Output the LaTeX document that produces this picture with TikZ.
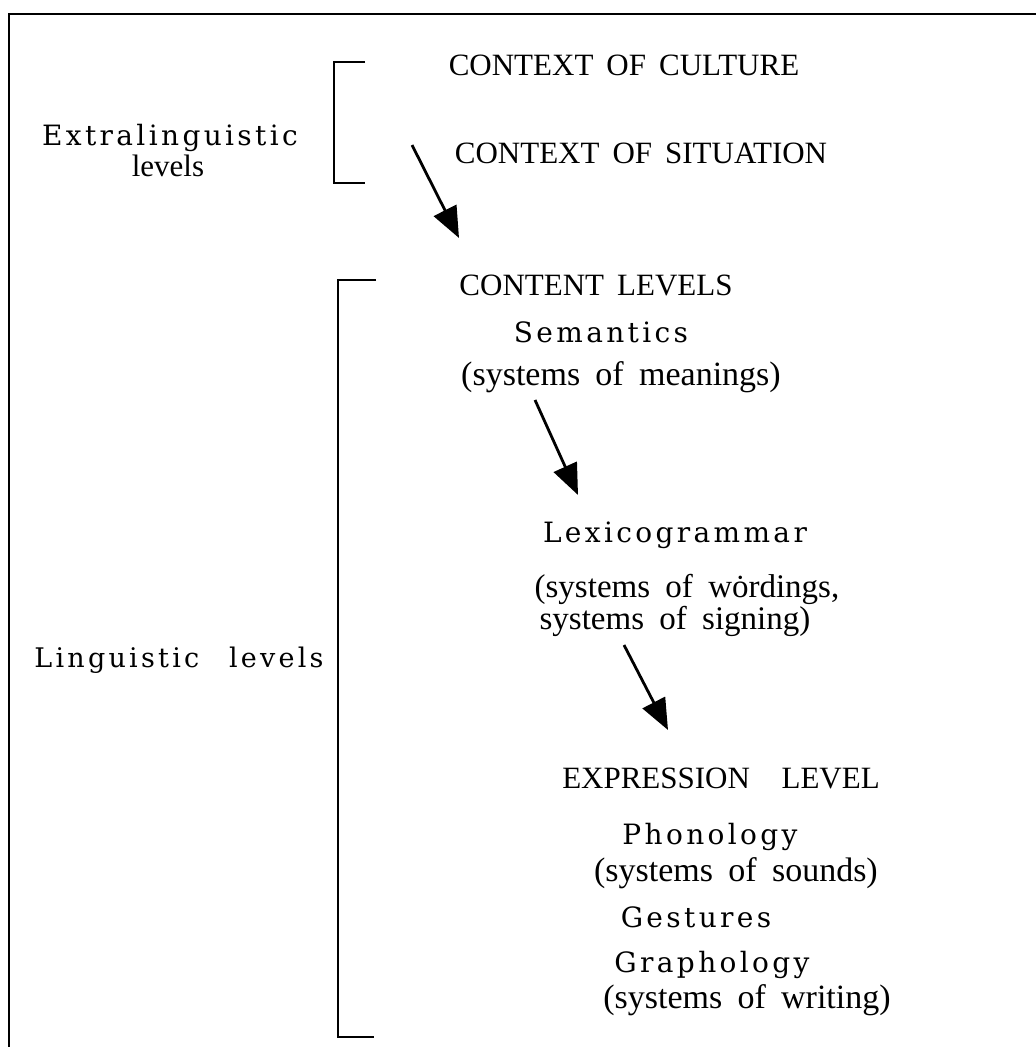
\documentclass[tikz,border=0pt]{standalone}
\usepackage{fontspec}
\setmainfont{Liberation Serif}
\newfontfamily\spacedfont[LetterSpace=12]{DejaVu Serif}
\usetikzlibrary{arrows.meta}

% type settings for the three kinds of label
\newcommand\capsfont{\fontsize{31}{31}\selectfont\spaceskip=0.42em\relax}
\newcommand\glossfont{\fontsize{34}{34}\selectfont\spaceskip=0.45em\relax}
\newcommand\termfont{\spacedfont\fontsize{28}{28}\selectfont}

\begin{document}
\begin{tikzpicture}[x=1pt,y=-1pt,
  rule/.style={line width=2.6pt},
  flow/.style={line width=2.8pt,-{Triangle[length=31pt,width=25pt]}},
  caps/.style={anchor=base,inner sep=0pt,font=\capsfont},
  gloss/.style={anchor=base,inner sep=0pt,font=\glossfont},
  term/.style={anchor=base,inner sep=0pt,font=\termfont},
]
\useasboundingbox (0,0) rectangle (1036,1047);

% open frame: top and left edges
\draw[rule] (1036,14) -- (9,14) -- (9,1047);

% brackets
\draw[rule] (365,62) -- (334,62) -- (334,183) -- (365,183);
\draw[rule] (376,280) -- (338,280) -- (338,1037) -- (374,1037);

% left-hand labels
\node[term] (extra) at (170,145) {Extralinguistic};
\node[anchor=base,inner sep=0pt,font=\fontsize{31}{31}\selectfont] (extralev) at (168,176) {levels};
\node[term,font=\termfont\fontsize{27}{27}\selectfont] (ling) at (179,667) {Linguistic\hspace{1.1em}levels};

% extralinguistic levels
\node[caps] (culture) at (624,75) {CONTEXT OF CULTURE};
\node[caps] (situation) at (641,163) {CONTEXT OF SITUATION};

% content levels
\node[caps] (content) at (596,295) {CONTENT LEVELS};
\node[term] (sem) at (601,342) {Semantics};
\node[gloss] (semg) at (621,385) {(systems of meanings)};
\node[term] (lex) at (675,542) {Lexicogrammar};
\node[gloss,font=\glossfont\fontsize{33}{33}\selectfont] (lexg1) at (687,597) {(systems of w\.ordings,};
\node[gloss,font=\glossfont\fontsize{33}{33}\selectfont] (lexg2) at (675,629) {systems of signing)};

% expression level
\node[caps] (expr) at (721,788) {EXPRESSION\hspace{0.6em} LEVEL};
\node[term] (phon) at (710,844) {Phonology};
\node[gloss] (phong) at (736,881) {(systems of sounds)};
\node[term] (gest) at (696,927) {Gestures};
\node[term] (graph) at (712,972) {Graphology};
\node[gloss] (graphg) at (747,1008) {(systems of writing)};

% realisation arrows
\coordinate (a1s) at (412,145);
\coordinate (a1e) at (459,238);
\coordinate (a2s) at (535,400);
\coordinate (a2e) at (578,495);
\coordinate (a3s) at (624,645);
\coordinate (a3e) at (668,730);
\draw[flow] (a1s) -- (a1e);
\draw[flow] (a2s) -- (a2e);
\draw[flow] (a3s) -- (a3e);
\end{tikzpicture}
\end{document}
